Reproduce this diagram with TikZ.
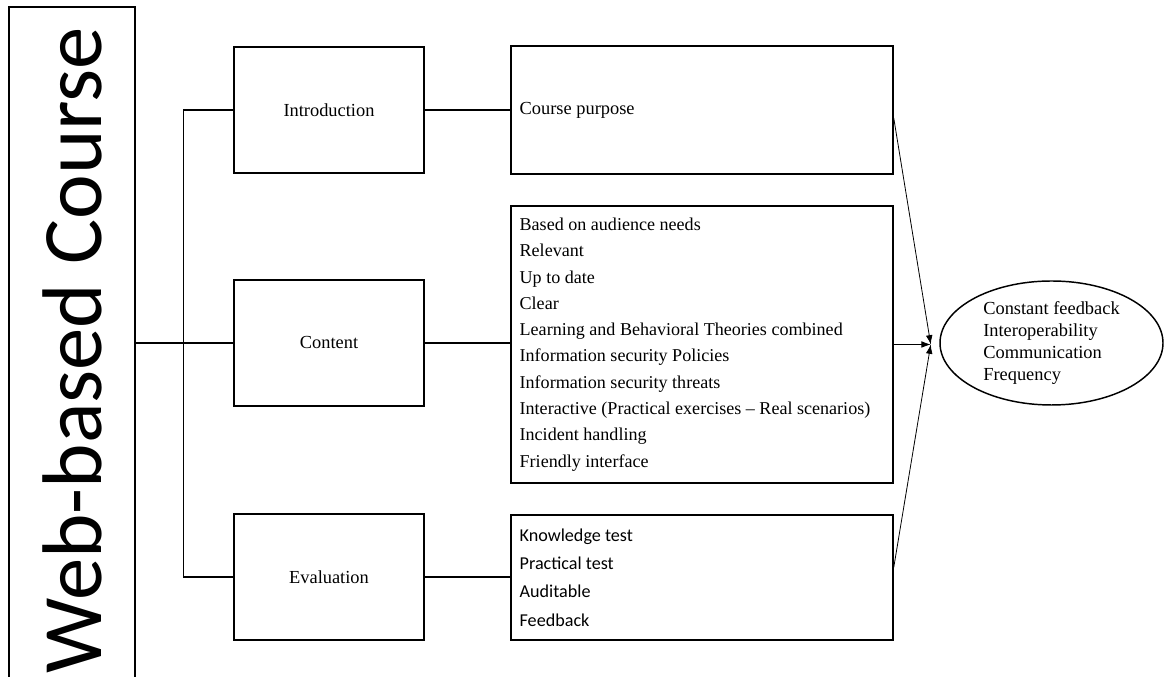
\documentclass[tikz,border=0pt]{standalone}
\usepackage{fontspec}
\setmainfont{Liberation Serif}
\newfontfamily\calibfont{Carlito}
\usetikzlibrary{calc,shapes.geometric,arrows.meta}

\begin{document}
\begin{tikzpicture}[x=0.75pt, y=0.75pt]

    \tikzstyle{box}=[draw=black, line width=1.1pt, inner sep=0pt, font={\fontsize{13.8}{19.7}\selectfont}];
    \tikzstyle{part}=[box, minimum width=142.5pt, minimum height=94.5pt];
    \tikzstyle{items}=[box, minimum height=96pt, text width=273.5pt, inner xsep=6.5pt, align=flush left];
    \tikzstyle{link}=[line width=1pt];
    \tikzstyle{feed}=[line width=0.6pt, -{Latex[length=7pt, width=5pt]}];

    \useasboundingbox (0,0) rectangle (1164,677);
    \clip (0,0) rectangle (1164,677);

    \node[box, minimum width=94.5pt, minimum height=511.5pt, font={\calibfont\fontsize{63.5}{63.5}\selectfont}] (web) at (72,329) {\rotatebox{90}{\hspace*{-3pt}Web-based Course}};

    \node[part] (intro) at (329,567) {Introduction};
    \node[part] (cont) at ($(intro)+(0,-233)$) {Content};
    \node[part] (eval) at ($(cont)+(0,-234)$) {Evaluation};

    \node[items] (purp) at (702,567) {Course purpose};
    \node[items, minimum height=207.75pt, font={\fontsize{13.55}{19.7}\selectfont}] (list) at ($(purp)+(0,-234.5)$) {Based on audience needs\\Relevant\\Up to date\\Clear\\Learning and Behavioral Theories combined\\Information security Policies\\Information security threats\\Interactive (Practical exercises -- Real scenarios)\\Incident handling\\Friendly interface};
    \node[items, minimum height=93.75pt, font={\calibfont\fontsize{13.6}{21.2}\selectfont}] (test) at ($(list)+(0,-233)$) {Knowledge test\\Practical test\\Auditable\\Feedback};

    \node[ellipse, draw=black, line width=1.1pt, minimum width=167.25pt, minimum height=93pt, inner sep=0pt, align=left, font={\fontsize{13.8}{16.3}\selectfont}] (out) at (1051.5,334) {Constant feedback\\Interoperability\\Communication\\Frequency};

    \coordinate (fork) at ($(cont.west)+(-50,0)$);
    \coordinate (meet) at ($(list.east)+(37,0)$);

    \draw[link] (web.east |- cont.west) -- (cont.west);
    \draw[link] (intro.west) -| (fork) |- (eval.west);
    \draw[link] (intro.east) -- (intro.east -| purp.west);
    \draw[link] (cont.east) -- (cont.east -| list.west);
    \draw[link] (eval.east) -- (eval.east -| test.west);

    \draw[feed] ($(purp.east)+(0,-8)$) -- (meet);
    \draw[feed] (list.east |- meet) -- (meet);
    \draw[feed] ($(test.east)+(0,10)$) -- (meet);
\end{tikzpicture}
\end{document}
